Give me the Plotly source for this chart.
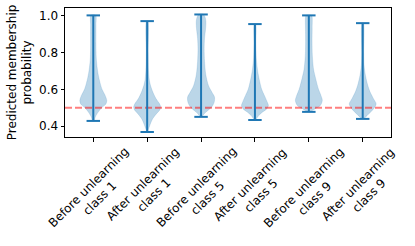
import plotly.graph_objects as go

# ---- data ----
positions = [1, 2, 3, 4, 5, 6]
labels = ["Before unlearning<br>class 1", "After unlearning<br>class 1",
          "Before unlearning<br>class 5", "After unlearning<br>class 5",
          "Before unlearning<br>class 9", "After unlearning<br>class 9"]
mins = [0.429, 0.369, 0.451, 0.434, 0.478, 0.440]
maxs = [1.000, 0.969, 1.005, 0.953, 1.000, 0.958]
y_ticks = [0.4, 0.6, 0.8, 1.0]
threshold = 0.5

# density profiles (value levels, relative half-width)
v1_y = [0.429, 0.45, 0.47, 0.50, 0.52, 0.54, 0.567, 0.60, 0.66, 0.71, 0.77, 0.85, 0.95, 1.0]
v1_w = [0.05, 0.15, 0.3, 0.62, 0.93, 1.0, 0.88, 0.65, 0.42, 0.3, 0.22, 0.2, 0.2, 0.18]
v2_y = [0.369, 0.385, 0.41, 0.44, 0.467, 0.49, 0.505, 0.52, 0.55, 0.585, 0.62, 0.65, 0.70, 0.80, 0.969]
v2_w = [0.03, 0.1, 0.22, 0.4, 0.68, 0.95, 1.0, 0.93, 0.65, 0.42, 0.25, 0.16, 0.1, 0.07, 0.05]
v3_y = [0.451, 0.458, 0.476, 0.503, 0.531, 0.558, 0.585, 0.62, 0.68, 0.75, 0.82, 0.876, 0.93, 0.967, 0.99, 1.005]
v3_w = [0.05, 0.12, 0.35, 0.78, 0.98, 1.0, 0.8, 0.55, 0.35, 0.26, 0.23, 0.26, 0.34, 0.36, 0.3, 0.18]
v4_y = [0.434, 0.44, 0.458, 0.476, 0.494, 0.512, 0.53, 0.567, 0.60, 0.66, 0.71, 0.77, 0.85, 0.953]
v4_w = [0.03, 0.1, 0.28, 0.55, 0.88, 1.0, 0.92, 0.7, 0.5, 0.3, 0.18, 0.1, 0.07, 0.05]
v5_y = [0.478, 0.485, 0.494, 0.512, 0.54, 0.567, 0.60, 0.66, 0.71, 0.785, 0.86, 0.93, 0.99, 1.0]
v5_w = [0.08, 0.25, 0.45, 0.85, 1.0, 0.9, 0.72, 0.5, 0.35, 0.26, 0.24, 0.25, 0.25, 0.2]
v6_y = [0.44, 0.449, 0.467, 0.494, 0.521, 0.549, 0.585, 0.62, 0.676, 0.73, 0.80, 0.958]
v6_w = [0.05, 0.2, 0.45, 0.8, 1.0, 0.8, 0.55, 0.38, 0.2, 0.1, 0.07, 0.05]
profiles = [(v1_y, v1_w), (v2_y, v2_w), (v3_y, v3_w), (v4_y, v4_w), (v5_y, v5_w), (v6_y, v6_w)]

# ---- styling ----
BLUE = "#1f77b4"
BODY = "rgba(31,119,180,0.3)"
HALF = 0.25   # max half-width of violin body (data units)
CAP = 0.125   # half-length of caps
FONT = "DejaVu Sans"

fig = go.Figure()

# violin bodies
for pos, (ys, ws) in zip(positions, profiles):
    right_x = [pos + w * HALF for w in ws]
    left_x = [pos - w * HALF for w in ws][::-1]
    xs = right_x + left_x + [right_x[0]]
    yy = ys + ys[::-1] + [ys[0]]
    fig.add_trace(go.Scatter(x=xs, y=yy, mode="lines", fill="toself",
                             fillcolor=BODY, line=dict(color=BODY, width=0.5, shape="spline", smoothing=0.8),
                             hoverinfo="skip", showlegend=False))

# threshold line
fig.add_trace(go.Scatter(x=[0.475, 6.525], y=[threshold, threshold], mode="lines",
                         line=dict(color="rgba(255,0,0,0.5)", width=2, dash="7px,3px"),
                         hoverinfo="skip", showlegend=False))

# whiskers and caps
for pos, lo, hi in zip(positions, mins, maxs):
    fig.add_trace(go.Scatter(x=[pos, pos], y=[lo, hi], mode="lines",
                             line=dict(color=BLUE, width=2), showlegend=False, hoverinfo="skip"))
    for v in (lo, hi):
        fig.add_trace(go.Scatter(x=[pos - CAP, pos + CAP], y=[v, v], mode="lines",
                                 line=dict(color=BLUE, width=2), showlegend=False, hoverinfo="skip"))

# rotated x labels
for pos, lab in zip(positions, labels):
    fig.add_annotation(x=pos, xref="x", y=0, yref="paper", text=lab, textangle=-45,
                       xanchor="center", yanchor="top", xshift=1, yshift=-5, showarrow=False,
                       align="center", font=dict(family=FONT, size=12, color="black"))

fig.update_layout(
    width=415, height=246,
    margin=dict(l=65, r=24, t=8, b=109),
    paper_bgcolor="white", plot_bgcolor="white",
    font=dict(family=FONT, size=12, color="black"),
    showlegend=False,
)
fig.update_xaxes(range=[0.475, 6.525], tickvals=positions, ticktext=[""] * len(positions),
                 ticks="outside", ticklen=3.5, tickwidth=1, tickcolor="black",
                 showline=True, linecolor="black", linewidth=1, mirror=True,
                 showgrid=False, zeroline=False)
fig.update_yaxes(range=[0.342, 1.04], tickvals=y_ticks, tickformat=".1f",
                 ticks="outside", ticklen=3.5, tickwidth=1, tickcolor="black",
                 showline=True, linecolor="black", linewidth=1, mirror=True,
                 showgrid=False, zeroline=False,
                 title=dict(text="Predicted membership<br>probability", standoff=4,
                            font=dict(family=FONT, size=12)))

fig.write_html("out.html", config={"displayModeBar": False},
               post_script="document.body.style.margin='0';")
